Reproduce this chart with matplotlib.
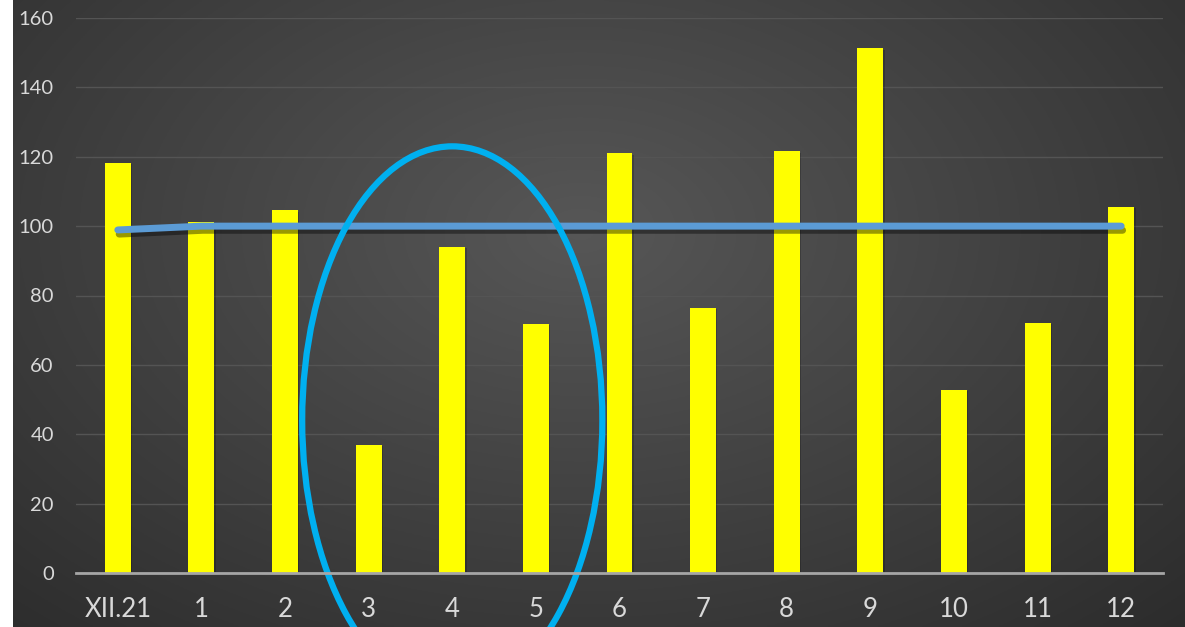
import numpy as np
import matplotlib
matplotlib.use('Agg')
import matplotlib.pyplot as plt
from matplotlib.patches import Ellipse
import matplotlib.patheffects as pe

# Data
categories = ['XII.21', '1', '2', '3', '4', '5', '6', '7', '8', '9', '10', '11', '12']
bar_values = [118.2, 101.2, 104.6, 36.9, 94.0, 71.8, 121.0, 76.4, 121.6, 151.3, 52.8, 72.1, 105.5]
line_values = [98.9, 100, 100, 100, 100, 100, 100, 100, 100, 100, 100, 100, 100]
y_ticks = [0, 20, 40, 60, 80, 100, 120, 140, 160]

# Highlight ellipse (annotation, in data coords)
ellipse_center = (4.0, 44)
ellipse_w, ellipse_h = 3.59, 158

fig = plt.figure(figsize=(11.85, 6.27), dpi=100)
fig.patch.set_facecolor('white')

# dark panel with radial gradient
bg_ax = fig.add_axes([13 / 1185, 0, 1 - 13 / 1185, 1])
bg_ax.set_axis_off()
yy, xx = np.mgrid[0:300, 0:600]
cx, cy = 290, 110
r = np.sqrt(((xx - cx) / 600) ** 2 + ((yy - cy) / 360) ** 2)
r = np.clip(r / 0.75, 0, 1)
shade = 0.34 - 0.17 * r
img = np.dstack([shade, shade, shade])
bg_ax.imshow(img, aspect='auto', extent=[0, 1, 0, 1], origin='upper')

ax = fig.add_axes([76 / 1185, 54 / 627, (1163 - 76) / 1185, (573 - 18) / 627])
ax.patch.set_alpha(0)
x = np.arange(len(categories))

ax.bar(x, bar_values, width=0.31, color='#ffff00', zorder=2,
       path_effects=[pe.SimplePatchShadow(offset=(1, -1), shadow_rgbFace='black', alpha=0.2), pe.Normal()])
ax.plot(x, line_values, color='#5b9bd5', lw=5, solid_capstyle='round', zorder=3,
        path_effects=[pe.SimpleLineShadow(offset=(1, -3), shadow_color='black', alpha=0.4), pe.Normal()])

ell = Ellipse(ellipse_center, ellipse_w, ellipse_h, fill=False, edgecolor='#00b0f0', lw=4.5,
              clip_on=False, zorder=4)
ax.add_patch(ell)

ax.set_xlim(-0.5, len(categories) - 0.5)
ax.set_ylim(0, 160)
ax.set_yticks(y_ticks)
ax.set_xticks(x)
ax.set_xticklabels(categories)
ax.grid(axis='y', color='#545454', lw=1, zorder=0)
for s in ['top', 'right', 'left']:
    ax.spines[s].set_visible(False)
ax.spines['bottom'].set_color('#a6a6a6')
ax.spines['bottom'].set_linewidth(2)
ax.spines['bottom'].set_zorder(5)
ax.tick_params(axis='both', length=0)
ax.tick_params(axis='y', labelcolor='#d9d9d9', labelsize=14.5, pad=16)
ax.tick_params(axis='x', labelcolor='#d9d9d9', labelsize=18.5, pad=17)
for lbl in ax.get_xticklabels() + ax.get_yticklabels():
    lbl.set_family('Lato')

fig.savefig('out.png', dpi=100)
